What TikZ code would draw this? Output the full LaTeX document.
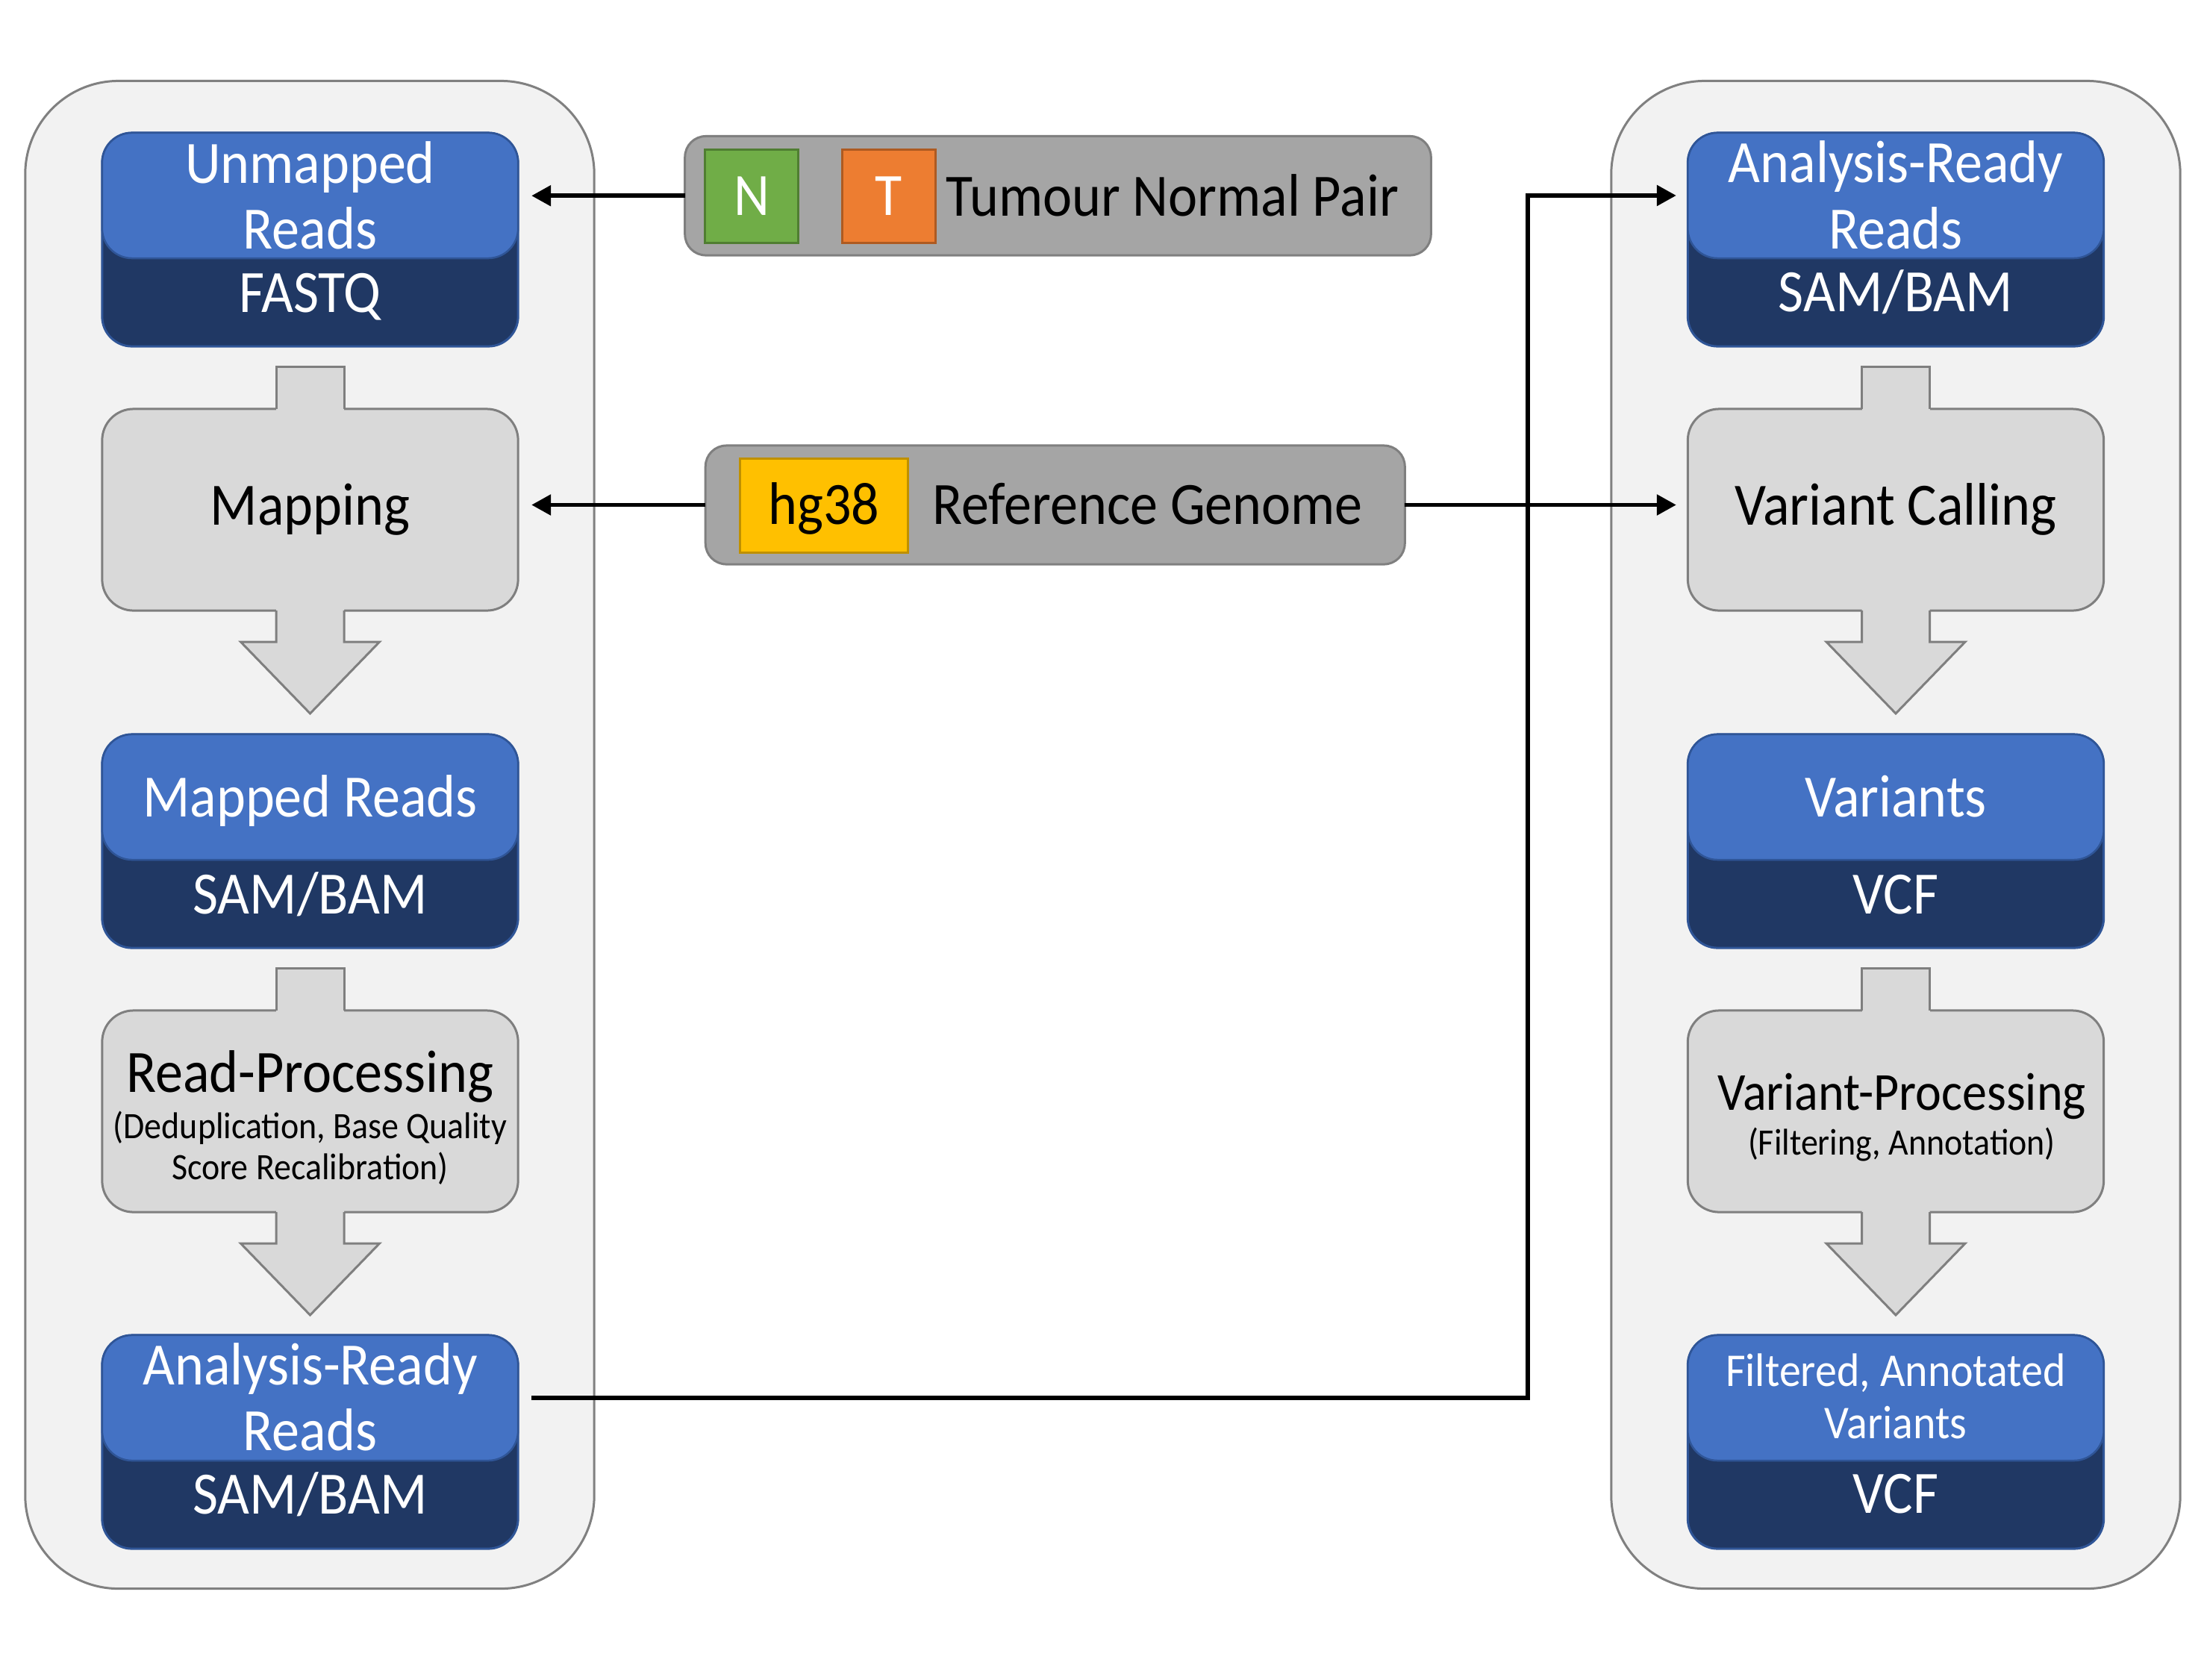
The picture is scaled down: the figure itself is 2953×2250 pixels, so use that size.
\documentclass[tikz,border=0pt]{standalone}
\usepackage{fontspec}
\setmainfont{Carlito}[FakeStretch=0.92]
\usetikzlibrary{arrows.meta,calc}
\definecolor{contfill}{HTML}{F2F2F2}
\definecolor{contline}{HTML}{808080}
\definecolor{procfill}{HTML}{D9D9D9}
\definecolor{procline}{HTML}{7F7F7F}
\definecolor{bluelight}{HTML}{4472C4}
\definecolor{bluedark}{HTML}{203864}
\definecolor{blueline}{HTML}{2F5597}
\definecolor{pairfill}{HTML}{A5A5A5}
\definecolor{pairline}{HTML}{7F7F7F}
\definecolor{ngreen}{HTML}{70AD47}
\definecolor{ngreenline}{HTML}{507E32}
\definecolor{torange}{HTML}{ED7D31}
\definecolor{torangeline}{HTML}{AE5A21}
\definecolor{hggold}{HTML}{FFC000}
\definecolor{hggoldline}{HTML}{BF9000}
\newcommand\szBig{\fontsize{22.9pt}{25pt}\selectfont}
\newcommand\szMid{\fontsize{20.4pt}{23pt}\selectfont}
\newcommand\szMed{\fontsize{17.9pt}{20pt}\selectfont}
\newcommand\szSmall{\fontsize{14.2pt}{15.6pt}\selectfont}
\tikzset{
  container/.style={draw=contline, fill=contfill, line width=0.03cm, rounded corners=1.25cm,
    minimum width=7.62cm, minimum height=20.19cm, inner sep=0pt, outer sep=0pt},
  darkbox/.style={draw=blueline, fill=bluedark, line width=0.03cm, rounded corners=0.4cm,
    minimum width=5.57cm, minimum height=2.86cm, inner sep=0pt, outer sep=0pt},
  lightbox/.style={draw=blueline, fill=bluelight, line width=0.025cm, rounded corners=0.4cm,
    minimum width=5.57cm, minimum height=1.68cm, inner sep=0pt, outer sep=0pt},
  procbox/.style={draw=procline, fill=procfill, line width=0.03cm, rounded corners=0.42cm,
    minimum width=5.57cm, minimum height=2.70cm, inner sep=0pt, outer sep=0pt},
  procedge/.style={draw=procline, line width=0.03cm},
  pairbox/.style={draw=pairline, fill=pairfill, line width=0.03cm, rounded corners=0.28cm,
    inner sep=0pt, outer sep=0pt},
  tagbox/.style={line width=0.03cm, inner sep=0pt, outer sep=0pt, font=\szBig},
  wtxt/.style={text=white, inner sep=0pt, anchor=base},
  btxt/.style={text=black, inner sep=0pt, anchor=base},
  conn/.style={line width=0.056cm, draw=black},
  arrowtip/.style={-{Triangle[length=0.26cm,width=0.27cm]}},
}
\newcommand\procshape[4]{%
  \node[procbox] (#1) at (#2,{(#3+#4)/2}) {};
  \fill[procfill] (#2-45.5,#3-57) rectangle (#2+45.5,#3+3);
  \draw[procedge] (#2-45.5,#3) -- (#2-45.5,#3-57) -- (#2+45.5,#3-57) -- (#2+45.5,#3);
  \fill[procfill] (#2-45.5,#4-3) -- (#2-45.5,#4+42) -- (#2-93,#4+42) -- (#2,#4+138)
     -- (#2+93,#4+42) -- (#2+45.5,#4+42) -- (#2+45.5,#4-3) -- cycle;
  \draw[procedge] (#2-45.5,#4) -- (#2-45.5,#4+42) -- (#2-93,#4+42) -- (#2,#4+138)
     -- (#2+93,#4+42) -- (#2+45.5,#4+42) -- (#2+45.5,#4);
}
\begin{document}
\begin{tikzpicture}[x=0.01cm,y=-0.01cm]
\useasboundingbox (0,0) rectangle (2953,2250);
\fill[white] (0,0) rectangle (2953,2250);

% containers
\node[container] (lcont) at (415,1118.5) {};
\node[container] (rcont) at (2540,1118.5) {};

% ---------- left column ----------
\node[darkbox] (unm) at (415.5,321) {};
\node[lightbox, anchor=north] (unmT) at (unm.north) {};
\node[wtxt, font=\szBig] (unm1) at (415.5,245) {Unmapped};
\node[wtxt, font=\szBig] (unm2) at (415.5,333) {Reads};
\node[wtxt, font=\szBig] (unm3) at (415.5,418) {FASTQ};

\procshape{map}{415.5}{548}{818}
\node[btxt, font=\szBig] (mapt) at (415.5,703) {Mapping};

\node[darkbox] (mr) at (415.5,1127) {};
\node[lightbox, anchor=north] (mrT) at (mr.north) {};
\node[wtxt, font=\szBig] (mr1) at (415.5,1094) {Mapped Reads};
\node[wtxt, font=\szBig] (mr2) at (415.5,1224) {SAM/BAM};

\procshape{rp}{415.5}{1354}{1624}
\node[btxt, font=\szBig] (rp1) at (415.5,1463) {Read-Processing};
\node[btxt, font=\szSmall] (rp2) at (415.5,1525) {(Deduplication, Base Quality};
\node[btxt, font=\szSmall] (rp3) at (415.5,1580) {Score Recalibration)};

\node[darkbox] (arL) at (415.5,1932) {};
\node[lightbox, anchor=north] (arLT) at (arL.north) {};
\node[wtxt, font=\szBig] (arL1) at (415.5,1855) {Analysis-Ready};
\node[wtxt, font=\szBig] (arL2) at (415.5,1943) {Reads};
\node[wtxt, font=\szBig] (arL3) at (415.5,2028) {SAM/BAM};

% ---------- right column ----------
\node[darkbox] (arR) at (2540,321) {};
\node[lightbox, anchor=north] (arRT) at (arR.north) {};
\node[wtxt, font=\szBig] (arR1) at (2540,244) {Analysis-Ready};
\node[wtxt, font=\szBig] (arR2) at (2540,333) {Reads};
\node[wtxt, font=\szBig] (arR3) at (2540,417) {SAM/BAM};

\procshape{vc}{2540}{548}{818}
\node[btxt, font=\szBig] (vct) at (2540,703) {Variant Calling};

\node[darkbox] (var) at (2540,1127) {};
\node[lightbox, anchor=north] (varT) at (var.north) {};
\node[wtxt, font=\szBig] (var1) at (2540,1094) {Variants};
\node[wtxt, font=\szBig] (var2) at (2540,1224) {VCF};

\procshape{vp}{2540}{1354}{1624}
\node[btxt, font=\szMid] (vp1) at (2548,1487) {Variant-Processing};
\node[btxt, font=\szSmall] (vp2) at (2548,1547) {(Filtering, Annotation)};

\node[darkbox] (fav) at (2540,1932) {};
\node[lightbox, anchor=north] (favT) at (fav.north) {};
\node[wtxt, font=\szMed] (fav1) at (2540,1857) {Filtered, Annotated};
\node[wtxt, font=\szMed] (fav2) at (2540,1927) {Variants};
\node[wtxt, font=\szBig] (fav3) at (2540,2027) {VCF};

% ---------- inputs ----------
\node[pairbox, minimum width=9.99cm, minimum height=1.595cm] (tnp) at (1417.5,262.25) {};
\node[tagbox, draw=ngreenline, fill=ngreen, text=white, minimum width=1.24cm, minimum height=1.245cm] (nbox) at (1007,263) {N};
\node[tagbox, draw=torangeline, fill=torange, text=white, minimum width=1.24cm, minimum height=1.245cm] (tbox) at (1191,263) {T};
\node[btxt, font=\szBig, anchor=base west] (tnpt) at (1267,289.5) {Tumour Normal Pair};

\node[pairbox, minimum width=9.365cm, minimum height=1.59cm] (rg) at (1413.75,676.5) {};
\node[tagbox, draw=hggoldline, fill=hggold, minimum width=2.24cm, minimum height=1.253cm] (hg) at (1104,677.3) {};
\node[btxt, font=\szBig] (hgt) at (1104,702.5) {hg38};
\node[btxt, font=\szBig, anchor=base west] (rgt) at (1249,702) {Reference Genome};

% ---------- connectors ----------
\coordinate (unmIn) at ([xshift=0.18cm]unmT.east);
\coordinate (mapIn) at ([xshift=0.18cm]map.east);
\coordinate (vcIn) at ([xshift=-0.155cm]vc.west);
\coordinate (arLOut) at ([xshift=0.18cm]arLT.east);
\coordinate (arRIn) at ([xshift=-0.155cm]arRT.west);
\coordinate (bend) at (2047,1000);

\draw[conn, arrowtip] (tnp.west) -- (unmIn |- tnp.west);
\draw[conn, arrowtip] (rg.west) -- (mapIn |- rg.west);
\draw[conn, arrowtip] (rg.east) -- (vcIn |- rg.east);
\draw[conn, arrowtip] (arLOut) -- (bend |- arLOut) -- (bend |- arRIn) -- (arRIn);
\end{tikzpicture}
\end{document}
